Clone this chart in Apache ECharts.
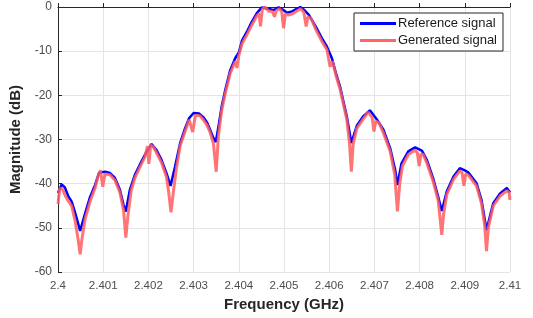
<!doctype html>
<html lang="en">

<head>
    <meta charset="utf-8">
    <title>Spectrum comparison</title>
    <script src="https://cdn.jsdelivr.net/npm/echarts@6/dist/echarts.min.js"></script>
    <style type="text/css">
        body {
            margin: 0;
            background: #fff;
        }
    </style>
</head>

<body>
    <div id="chart_spectrum" style="width: 533px; height: 318px;"></div>
    <script>
        // frequency (GHz) / magnitude (dB)
        let ref_freq = [2.40000, 2.40008, 2.40015, 2.40023, 2.40030, 2.40038, 2.40049, 2.40060, 2.40071, 2.40082,
            2.40091, 2.40104, 2.40115, 2.40126, 2.40137, 2.40145, 2.40150, 2.40159, 2.40170, 2.40181,
            2.40192, 2.40200, 2.40207, 2.40218, 2.40229, 2.40240, 2.40249, 2.40259, 2.40270, 2.40281,
            2.40290, 2.40300, 2.40312, 2.40322, 2.40330, 2.40337, 2.40344, 2.40349, 2.40356, 2.40362,
            2.40370, 2.40381, 2.40392, 2.40400, 2.40407, 2.40418, 2.40429, 2.40440, 2.40451, 2.40466,
            2.40477, 2.40488, 2.40497, 2.40507, 2.40518, 2.40528, 2.40536, 2.40545, 2.40555, 2.40570,
            2.40584, 2.40595, 2.40606, 2.40615, 2.40624, 2.40639, 2.40649, 2.40661, 2.40675, 2.40690,
            2.40705, 2.40720, 2.40735, 2.40746, 2.40751, 2.40760, 2.40775, 2.40790, 2.40805, 2.40816,
            2.40830, 2.40841, 2.40849, 2.40860, 2.40875, 2.40889, 2.40900, 2.40908, 2.40926, 2.40937,
            2.40948, 2.40963, 2.40978, 2.40993, 2.41000];
        let ref_db = [-42.1, -40.2, -40.8, -42.9, -44.0, -46.6, -50.7, -46.7, -43.0, -40.3,
            -37.5, -37.3, -37.6, -38.7, -41.4, -44.8, -46.3, -41.4, -38.0, -35.7,
            -33.5, -32.2, -31.0, -32.4, -34.6, -37.6, -40.5, -36.1, -30.9, -27.5,
            -25.2, -24.0, -24.1, -25.0, -26.2, -27.9, -29.7, -30.6, -26.5, -22.6,
            -18.8, -14.3, -11.6, -10.3, -7.6, -5.6, -3.3, -1.4, -0.1, -0.4,
            -0.7, -0.1, -0.6, -1.3, -1.0, -0.4, 0, -0.7, -1.8, -4.4,
            -7.1, -9.0, -11.6, -15.0, -18.0, -24.8, -30.8, -26.9, -24.8, -23.4,
            -25.4, -27.8, -32.0, -36.9, -40.3, -35.4, -32.7, -31.8, -32.5, -34.6,
            -38.8, -42.9, -46.2, -41.8, -38.4, -36.5, -37.0, -37.5, -39.9, -43.7,
            -50.5, -44.4, -42.2, -41.0, -42.0];

        let gen_freq = [2.40000, 2.40004, 2.40010, 2.40015, 2.40022, 2.40030, 2.40038, 2.40045, 2.40049, 2.40053,
            2.40060, 2.40071, 2.40082, 2.40088, 2.40094, 2.40099, 2.40104, 2.40115, 2.40126, 2.40137,
            2.40145, 2.40150, 2.40155, 2.40162, 2.40170, 2.40181, 2.40192, 2.40198, 2.40201, 2.40205,
            2.40212, 2.40218, 2.40222, 2.40229, 2.40240, 2.40245, 2.40250, 2.40255, 2.40262, 2.40270,
            2.40281, 2.40290, 2.40298, 2.40304, 2.40314, 2.40322, 2.40330, 2.40337, 2.40344, 2.40350,
            2.40355, 2.40362, 2.40370, 2.40381, 2.40392, 2.40396, 2.40400, 2.40407, 2.40418, 2.40429,
            2.40440, 2.40445, 2.40448, 2.40452, 2.40458, 2.40466, 2.40474, 2.40479, 2.40483, 2.40490,
            2.40495, 2.40499, 2.40503, 2.40510, 2.40520, 2.40530, 2.40537, 2.40544, 2.40549, 2.40553,
            2.40560, 2.40570, 2.40584, 2.40595, 2.40602, 2.40607, 2.40615, 2.40624, 2.40639, 2.40645,
            2.40649, 2.40653, 2.40661, 2.40675, 2.40686, 2.40690, 2.40695, 2.40699, 2.40703, 2.40710,
            2.40720, 2.40735, 2.40745, 2.40751, 2.40756, 2.40762, 2.40775, 2.40790, 2.40795, 2.40799,
            2.40803, 2.40808, 2.40816, 2.40830, 2.40841, 2.40845, 2.40849, 2.40853, 2.40860, 2.40875,
            2.40889, 2.40894, 2.40898, 2.40902, 2.40908, 2.40926, 2.40937, 2.40944, 2.40948, 2.40952,
            2.40963, 2.40978, 2.40993, 2.40998, 2.41000];
        let gen_db = [-44.6, -41.0, -41.2, -42.5, -43.8, -45.0, -48.5, -53.0, -56.0, -52.5,
            -48.0, -44.0, -41.0, -38.5, -37.0, -40.7, -37.8, -38.0, -39.2, -42.0,
            -46.0, -52.2, -47.0, -41.5, -38.7, -36.3, -34.0, -31.5, -35.5, -31.2,
            -31.8, -33.0, -33.8, -35.2, -38.5, -42.0, -46.5, -42.0, -36.5, -31.5,
            -28.2, -25.5, -28.3, -24.5, -24.6, -25.6, -26.8, -28.5, -31.0, -37.3,
            -29.0, -23.5, -19.6, -15.0, -12.3, -13.8, -11.0, -8.3, -6.3, -4.0,
            -2.0, -1.5, -4.4, -0.5, 0, -0.9, -1.0, -2.2, -0.8, -0.4,
            -1.0, -4.8, -1.6, -1.8, -1.5, -0.8, -0.4, -1.2, -4.4, -2.2,
            -2.6, -5.0, -7.8, -9.7, -13.5, -12.3, -15.5, -18.6, -25.5, -31.0,
            -37.3, -31.0, -27.5, -25.4, -23.8, -23.6, -25.0, -28.2, -25.8, -26.2,
            -28.5, -32.7, -38.0, -46.3, -40.0, -36.0, -33.4, -32.4, -33.0, -36.0,
            -33.3, -33.4, -35.3, -39.5, -43.8, -47.5, -51.6, -47.0, -42.5, -39.0,
            -37.1, -37.5, -40.5, -37.8, -38.1, -40.5, -44.5, -49.5, -55.3, -50.0,
            -45.0, -42.8, -41.6, -42.0, -43.7];

        function pairs(xs, ys) {
            return xs.map(function (x, i) { return [x, ys[i]]; });
        }

        function draw_spectrum() {
            let myChart = echarts.init(document.getElementById('chart_spectrum'));
            let axis_color = '#262626';
            let option = {
                animation: false,
                textStyle: { fontFamily: 'Liberation Sans, Arial, sans-serif' },
                grid: { left: 58, right: 23, top: 7, bottom: 46 },
                legend: {
                    orient: 'vertical',
                    right: 30,
                    top: 13,
                    backgroundColor: '#fff',
                    borderColor: axis_color,
                    borderWidth: 1,
                    borderRadius: 0,
                    padding: [4, 6, 4, 6],
                    itemGap: 4,
                    itemWidth: 36,
                    itemHeight: 3,
                    icon: 'rect',
                    textStyle: { fontSize: 13, color: '#1a1a1a', padding: [0, 0, 0, -3] },
                    data: ['Reference signal', 'Generated signal']
                },
                xAxis: {
                    type: 'value',
                    min: 2.4,
                    max: 2.41,
                    interval: 0.001,
                    name: 'Frequency (GHz)',
                    nameLocation: 'middle',
                    nameGap: 22,
                    nameTextStyle: { fontSize: 15, fontWeight: 'bold', color: '#262626' },
                    axisLine: { lineStyle: { color: axis_color } },
                    axisTick: { inside: true, length: 4, lineStyle: { color: axis_color } },
                    axisLabel: {
                        color: '#4d4d4d',
                        fontSize: 11.5,
                        margin: 8,
                        formatter: function (v) { return parseFloat(v.toFixed(3)).toString(); }
                    },
                    splitLine: { show: true, lineStyle: { color: '#e4e4e4' } }
                },
                yAxis: {
                    type: 'value',
                    min: -60,
                    max: 0,
                    interval: 10,
                    name: 'Magnitude (dB)',
                    nameLocation: 'middle',
                    nameGap: 26,
                    nameTextStyle: { fontSize: 15, fontWeight: 'bold', color: '#262626' },
                    axisLine: { show: true, lineStyle: { color: axis_color } },
                    axisTick: { show: true, inside: true, length: 4, lineStyle: { color: axis_color } },
                    axisLabel: { color: '#4d4d4d', fontSize: 12, margin: 6 },
                    splitLine: { show: true, lineStyle: { color: '#e4e4e4' } }
                },
                series: [
                    {
                        name: 'Reference signal',
                        type: 'line',
                        data: pairs(ref_freq, ref_db),
                        showSymbol: false,
                        symbol: 'none',
                        color: '#0000ff',
                        lineStyle: { width: 2.5, color: '#0000ff' }
                    },
                    {
                        name: 'Generated signal',
                        type: 'line',
                        data: pairs(gen_freq, gen_db),
                        showSymbol: false,
                        symbol: 'none',
                        color: '#ff6666',
                        lineStyle: { width: 3, color: '#ff5c5c', opacity: 0.85 }
                    }
                ]
            };
            myChart.setOption(option, true);
        }

        draw_spectrum();
    </script>
</body>

</html>
